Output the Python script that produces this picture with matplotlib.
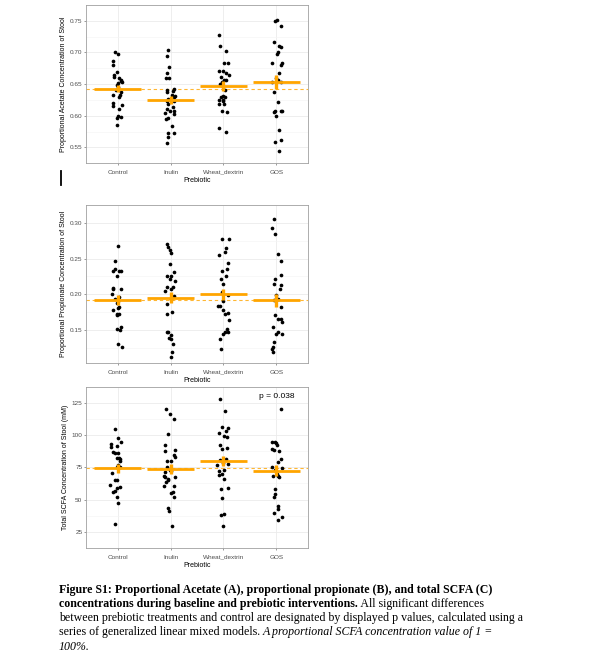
import numpy as np
import matplotlib.pyplot as plt
from matplotlib.lines import Line2D
from matplotlib.transforms import ScaledTranslation

categories = ['Control', 'Inulin', 'Wheat_dextrin', 'GOS']

# --- Panel A: proportional acetate (values, horizontal jitter)
acetate = [
    [0.700, 0.697, 0.687, 0.680, 0.669, 0.664, 0.661, 0.659, 0.656, 0.654, 0.652, 0.655, 0.648, 0.645,
     0.641, 0.637, 0.633, 0.633, 0.629, 0.617, 0.620, 0.615, 0.610, 0.600, 0.598, 0.596, 0.585],
    [0.704, 0.694, 0.677, 0.668, 0.659, 0.659, 0.642, 0.641, 0.639, 0.637, 0.633, 0.631, 0.630, 0.627,
     0.623, 0.623, 0.619, 0.614, 0.611, 0.608, 0.607, 0.604, 0.603, 0.596, 0.595, 0.584, 0.573, 0.573,
     0.567, 0.557],
    [0.727, 0.710, 0.702, 0.684, 0.683, 0.670, 0.670, 0.667, 0.664, 0.662, 0.656, 0.657, 0.650, 0.653,
     0.648, 0.640, 0.631, 0.630, 0.630, 0.625, 0.625, 0.623, 0.618, 0.618, 0.607, 0.606, 0.581, 0.575],
    [0.750, 0.751, 0.742, 0.716, 0.711, 0.709, 0.700, 0.698, 0.683, 0.684, 0.681, 0.668, 0.660, 0.656,
     0.653, 0.654, 0.638, 0.622, 0.608, 0.607, 0.606, 0.599, 0.577, 0.562, 0.558, 0.545, 0.608],
]
acetate_jit = [
    [-0.05, 0.01, -0.08, -0.08, -0.01, -0.07, -0.07, 0.03, 0.06, 0.09, 0.01, 0.06, -0.02, 0.01,
     -0.04, 0.06, 0.04, -0.09, 0.03, 0.09, -0.08, -0.08, 0.03, 0.01, 0.06, -0.01, -0.02],
    [-0.04, -0.07, -0.03, -0.06, -0.08, -0.03, 0.06, -0.06, 0.04, -0.07, 0.03, 0.08, 0.06, -0.04,
     -0.07, 0.06, -0.04, 0.04, -0.07, -0.02, 0.07, -0.10, 0.07, -0.04, -0.08, 0.03, -0.04, 0.07,
     -0.04, -0.07],
    [-0.08, -0.06, 0.05, 0.01, 0.09, -0.01, -0.08, 0.05, 0.11, -0.05, 0.01, 0.04, -0.06, -0.03,
     -0.04, 0.03, 0.00, 0.03, -0.05, -0.09, -0.01, 0.00, -0.09, 0.01, -0.03, 0.06, -0.08, 0.04],
    [-0.03, 0.01, 0.09, -0.05, 0.06, 0.08, 0.03, 0.01, -0.09, 0.11, 0.09, 0.06, -0.01, 0.04,
     -0.08, 0.09, -0.04, 0.03, -0.03, 0.09, -0.05, 0.00, 0.06, 0.08, -0.03, 0.05, 0.11],
]
acetate_mean = [0.643, 0.625, 0.647, 0.653]
acetate_se = [0.0055, 0.007, 0.0075, 0.011]

# --- Panel B: proportional propionate
propionate = [
    [0.268, 0.246, 0.236, 0.233, 0.225, 0.232, 0.232, 0.209, 0.207, 0.207, 0.201, 0.197, 0.193, 0.191,
     0.188, 0.183, 0.181, 0.178, 0.173, 0.172, 0.171, 0.155, 0.150, 0.151, 0.130, 0.127],
    [0.270, 0.266, 0.262, 0.258, 0.243, 0.226, 0.231, 0.221, 0.226, 0.218, 0.210, 0.211, 0.207, 0.205,
     0.198, 0.194, 0.187, 0.176, 0.172, 0.148, 0.147, 0.143, 0.139, 0.137, 0.130, 0.120, 0.113],
    [0.277, 0.278, 0.265, 0.255, 0.259, 0.244, 0.232, 0.236, 0.225, 0.221, 0.214, 0.203, 0.199, 0.191,
     0.184, 0.184, 0.178, 0.173, 0.174, 0.164, 0.151, 0.147, 0.145, 0.147, 0.138, 0.124],
    [0.305, 0.293, 0.284, 0.257, 0.247, 0.227, 0.222, 0.215, 0.213, 0.208, 0.199, 0.194, 0.192, 0.183,
     0.171, 0.166, 0.165, 0.162, 0.154, 0.148, 0.144, 0.145, 0.133, 0.127, 0.124, 0.120],
]
propionate_jit = [
    [0.00, -0.05, -0.06, -0.08, -0.02, 0.03, 0.06, -0.08, -0.09, 0.06, -0.11, 0.03, -0.05, 0.01,
     -0.02, 0.03, 0.01, -0.09, -0.02, 0.03, -0.01, 0.06, 0.04, -0.01, 0.01, 0.08],
    [-0.07, -0.05, -0.02, 0.01, -0.02, -0.07, 0.06, -0.02, 0.01, 0.08, -0.06, 0.04, 0.01, -0.10,
     0.07, 0.01, -0.07, 0.03, -0.06, -0.04, -0.07, 0.01, -0.03, 0.01, 0.04, 0.03, 0.01],
    [-0.02, 0.10, 0.04, -0.09, 0.03, 0.09, -0.03, 0.07, 0.05, -0.05, 0.00, -0.03, 0.09, 0.00,
     -0.06, -0.10, -0.01, 0.03, 0.09, 0.11, 0.06, 0.03, 0.00, 0.08, -0.06, -0.05],
    [-0.05, -0.08, -0.03, 0.04, 0.09, 0.09, -0.03, -0.05, 0.08, 0.07, -0.01, 0.04, -0.05, 0.09,
     -0.02, 0.03, 0.08, 0.11, -0.06, 0.04, 0.00, 0.11, -0.05, -0.06, -0.08, -0.07],
]
propionate_mean = [0.1928, 0.1955, 0.200, 0.1915]
propionate_se = [0.007, 0.008, 0.008, 0.009]

# --- Panel C: total SCFA (mM)
total = [
    [104.9, 97.8, 95.0, 93.2, 90.8, 91.5, 86.9, 86.5, 85.8, 82.3, 81.2, 80.0, 82.1, 77.0, 75.4, 74.9,
     70.3, 65.0, 65.0, 61.1, 59.7, 59.2, 56.9, 55.8, 52.3, 47.7, 31.1],
    [119.9, 116.5, 112.5, 101.2, 92.7, 87.4, 88.1, 84.6, 83.0, 80.0, 80.0, 75.4, 73.1, 71.2, 71.9,
     68.0, 67.3, 67.8, 65.7, 63.6, 65.5, 60.8, 60.2, 56.2, 55.1, 52.3, 43.3, 41.5, 29.9],
    [127.8, 119.0, 106.1, 105.8, 103.1, 101.5, 99.2, 98.9, 92.0, 89.2, 89.7, 80.5, 81.6, 77.7, 78.2,
     77.0, 71.9, 72.6, 69.6, 69.2, 66.2, 59.2, 58.1, 51.2, 39.2, 37.8, 29.7],
    [120.4, 95.0, 95.0, 93.8, 92.7, 89.2, 87.6, 88.5, 81.6, 78.8, 75.0, 73.1, 74.7, 68.0, 69.6, 67.8,
     68.2, 58.5, 54.6, 52.3, 44.7, 43.1, 40.0, 36.8, 34.3],
]
total_jit = [
    [-0.06, 0.01, 0.06, -0.13, -0.13, -0.02, -0.08, -0.05, 0.00, 0.03, 0.04, 0.04, -0.02, 0.00, -0.02,
     0.04, -0.11, -0.05, -0.02, -0.15, 0.04, -0.02, -0.05, -0.08, -0.02, 0.00, -0.05],
    [-0.08, -0.02, 0.07, -0.05, -0.11, -0.10, 0.08, 0.06, 0.09, -0.07, 0.01, -0.07, -0.02, -0.10, 0.01,
     -0.13, -0.10, 0.08, -0.04, -0.08, -0.04, -0.12, 0.07, 0.04, 0.01, 0.06, -0.05, -0.03, 0.03],
    [-0.06, 0.03, -0.03, 0.08, 0.04, -0.09, 0.01, 0.06, -0.06, -0.03, 0.06, -0.06, 0.05, 0.08, 0.00,
     -0.13, -0.09, 0.01, -0.03, -0.08, 0.02, 0.09, -0.05, -0.03, 0.02, -0.05, 0.00],
    [0.08, -0.08, -0.03, -0.01, 0.01, -0.08, 0.06, -0.05, 0.08, 0.03, -0.08, -0.03, 0.11, -0.06, 0.01,
     0.06, 0.04, -0.02, -0.03, -0.05, 0.04, 0.03, -0.04, 0.11, 0.04],
]
total_mean = [74.2, 73.8, 79.8, 72.4]
total_se = [3.3, 3.7, 4.0, 4.4]

panels = [
    (acetate, acetate_jit, acetate_mean, acetate_se,
     'Proportional Acetate Concentration of Stool', [0.55, 0.60, 0.65, 0.70, 0.75], (0.5396, 0.7646), '%.2f'),
    (propionate, propionate_jit, propionate_mean, propionate_se,
     'Proportional Propionate Concentration of Stool', [0.15, 0.20, 0.25, 0.30], (0.104, 0.3132), '%.2f'),
    (total, total_jit, total_mean, total_se,
     'Total SCFA Concentration of Stool (mM)', [25, 50, 75, 100, 125], (23.6, 135.4), '%d'),
]

W, H = 591, 668
fig = plt.figure(figsize=(W / 100, H / 100), dpi=100)
plt.rcParams['font.family'] = 'Liberation Sans'

boxes = [(86, 5, 308, 163.3), (86, 205, 308, 363), (86, 386.7, 308, 548)]
orange = '#FFA500'

axes = []
for (vals, jit, means, se, ylab, yt, ylim, fmt), (x0, y0, x1, y1) in zip(panels, boxes):
    ax = fig.add_axes([x0 / W, 1 - y1 / H, (x1 - x0) / W, (y1 - y0) / H])
    axes.append(ax)
    ax.set_xlim(0.4, 4.6)
    ax.set_ylim(*ylim)
    ax.set_xticks(range(1, 5))
    ax.set_xticklabels(categories, va='baseline')
    ax.set_yticks(yt)
    ax.set_yticklabels([fmt % t for t in yt])
    step = yt[1] - yt[0]
    ax.set_yticks([t - step / 2 for t in yt] + [yt[-1] + step / 2], minor=True)
    ax.grid(True, which='major', color='#EBEBEB', lw=0.6, zorder=0)
    ax.grid(True, which='minor', axis='y', color='#F4F4F4', lw=0.4, zorder=0)
    ax.set_axisbelow(True)
    ax.tick_params(which='minor', length=0)
    ax.tick_params(which='major', labelsize=4.6, colors='#4D4D4D', length=1.3, width=0.4, pad=1.3)
    ax.tick_params(axis='x', pad=6.6)
    for s in ax.spines.values():
        s.set_color('#A0A0A0')
        s.set_linewidth(0.6)
    ax.set_ylabel(ylab, fontsize=5, labelpad=2)
    ax.set_xlabel('Prebiotic', fontsize=5, labelpad=1.2)

    for i in range(4):
        ax.scatter(np.array(jit[i]) + i + 1, vals[i], s=7, color='black', lw=0, zorder=3)
    ax.axhline(means[0], color=orange, lw=0.8, ls=(0, (3, 2.5)), alpha=0.8, zorder=2)
    pos = np.arange(1, 5)
    ax.hlines(means, pos - 0.44, pos + 0.44, color=orange, lw=2.0, zorder=4)
    ax.vlines(pos, np.array(means) - np.array(se), np.array(means) + np.array(se),
              color=orange, lw=2.4, zorder=4)

axes[2].text(4.0, 129.6, 'p = 0.038', fontsize=6, ha='center', va='center')

# stray mark left of panel A
fig.add_artist(Line2D([61 / W, 61 / W], [1 - 171 / H, 1 - 185 / H], color='black', lw=1.3))

fig.canvas.draw()
renderer = fig.canvas.get_renderer()

# agg rounds the baseline with the label's descent; lift labels by it so they line up
for ax in axes:
    for lbl in ax.get_xticklabels():
        _, _, d = renderer.get_text_width_height_descent(lbl.get_text(), lbl.get_fontproperties(), False)
        if d > 0:
            lbl.set_transform(lbl.get_transform() + ScaledTranslation(0, d / 100, fig.dpi_scale_trans))

# caption with mixed styles
cap_lines = [
    [('Figure S1: Proportional Acetate (A), proportional propionate (B), and total SCFA (C)', 'bold', 'normal')],
    [('concentrations during baseline and prebiotic interventions.', 'bold', 'normal'),
     (' All significant differences', 'normal', 'normal')],
    [('between prebiotic treatments and control are designated by displayed p values, calculated using a',
      'normal', 'normal')],
    [('series of generalized linear mixed models. ', 'normal', 'normal'),
     ('A proportional SCFA concentration value of 1 =', 'normal', 'italic')],
    [('100%.', 'normal', 'italic')],
]
y = 592.5
for line in cap_lines:
    x = 59
    for txt, wt, st in line:
        t = fig.text(x / W, 1 - y / H, txt, fontsize=8.6, family='Liberation Serif',
                     weight=wt, style=st, ha='left', va='baseline')
        bb = t.get_window_extent(renderer)
        x += bb.width
    y += 14.3

fig.savefig('out.png', dpi=100)
